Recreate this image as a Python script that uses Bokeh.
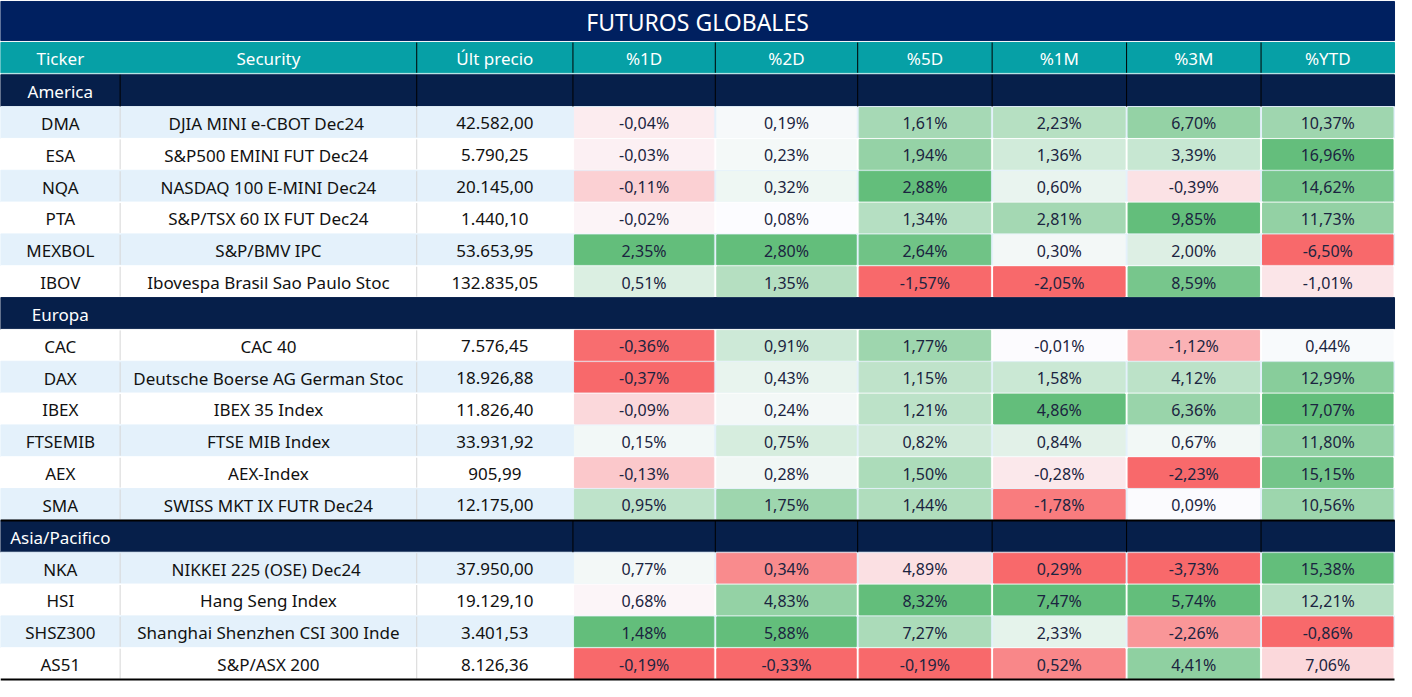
from bokeh.plotting import figure
from bokeh.models import Range1d
from bokeh.core.properties import value
from bokeh.embed import file_html
from bokeh.resources import INLINE
import numpy as np

# ---------------- data ----------------
title = "FUTUROS GLOBALES"
headers = ["Ticker", "Security", "Últ precio", "%1D", "%2D", "%5D", "%1M", "%3M", "%YTD"]
regions = ["America", "Europa", "Asia/Pacifico"]
region_of = ["America"] * 6 + ["Europa"] * 6 + ["Asia/Pacifico"] * 4
tickers = ["DMA", "ESA", "NQA", "PTA", "MEXBOL", "IBOV",
           "CAC", "DAX", "IBEX", "FTSEMIB", "AEX", "SMA",
           "NKA", "HSI", "SHSZ300", "AS51"]
securities = ["DJIA MINI e-CBOT  Dec24", "S&P500 EMINI FUT  Dec24", "NASDAQ 100 E-MINI Dec24",
              "S&P/TSX 60 IX FUT Dec24", "S&P/BMV IPC", "Ibovespa Brasil Sao Paulo Stoc",
              "CAC 40", "Deutsche Boerse AG German Stoc", "IBEX 35 Index", "FTSE MIB Index",
              "AEX-Index", "SWISS MKT IX FUTR Dec24",
              "NIKKEI 225  (OSE) Dec24", "Hang Seng Index", "Shanghai Shenzhen CSI 300 Inde",
              "S&P/ASX 200"]
prices = [42582.00, 5790.25, 20145.00, 1440.10, 53653.95, 132835.05,
          7576.45, 18926.88, 11826.40, 33931.92, 905.99, 12175.00,
          37950.00, 19129.10, 3401.53, 8126.36]
pct_1d = [-0.04, -0.03, -0.11, -0.02, 2.35, 0.51,
          -0.36, -0.37, -0.09, 0.15, -0.13, 0.95,
          0.77, 0.68, 1.48, -0.19]
pct_2d = [0.19, 0.23, 0.32, 0.08, 2.80, 1.35,
          0.91, 0.43, 0.24, 0.75, 0.28, 1.75,
          0.34, 4.83, 5.88, -0.33]
pct_5d = [1.61, 1.94, 2.88, 1.34, 2.64, -1.57,
          1.77, 1.15, 1.21, 0.82, 1.50, 1.44,
          4.89, 8.32, 7.27, -0.19]
pct_1m = [2.23, 1.36, 0.60, 2.81, 0.30, -2.05,
          -0.01, 1.58, 4.86, 0.84, -0.28, -1.78,
          0.29, 7.47, 2.33, 0.52]
pct_3m = [6.70, 3.39, -0.39, 9.85, 2.00, 8.59,
          -1.12, 4.12, 6.36, 0.67, -2.23, 0.09,
          -3.73, 5.74, -2.26, 4.41]
pct_ytd = [10.37, 16.96, 14.62, 11.73, -6.50, -1.01,
           0.44, 12.99, 17.07, 11.80, 15.15, 10.56,
           15.38, 12.21, -0.86, 7.06]
pct_cols = [pct_1d, pct_2d, pct_5d, pct_1m, pct_3m, pct_ytd]

# ---------------- styling / layout ----------------
W_REF, H_REF = 1412, 697
col_edges = [0, 121, 421, 579, 723, 867, 1003, 1139, 1275, 1410]
TITLE_TOP, TITLE_BOT = 1, 41
HEAD_TOP, HEAD_BOT = 43, 74
ROW0, ROW_H = 76, 32.58

NAVY_TITLE = "#002060"
NAVY_GROUP = "#061F4A"
TEAL = "#06A0A6"
BAND = "#E4F1FB"
RED = (248, 105, 107)
WHITE = (252, 252, 255)
GREEN = (99, 190, 123)
FONT = "Noto Sans"

# color-scale groups (conditional formatting ranges)
scale_group = {"America": "A", "Europa": "A", "Asia/Pacifico": "B"}


def lerp(c1, c2, t):
    t = min(max(t, 0.0), 1.0)
    return "#%02x%02x%02x" % tuple(int(round(a + (b - a) * t)) for a, b in zip(c1, c2))


def heat(v, lo, mid, hi):
    if v <= mid:
        t = (v - lo) / (mid - lo) if mid > lo else 1.0
        return lerp(RED, WHITE, t)
    t = (v - mid) / (hi - mid) if hi > mid else 1.0
    return lerp(WHITE, GREEN, t)


def fmt_pct(v):
    return ("%.2f" % v).replace(".", ",") + "%"


def fmt_price(v):
    return ("{:,.2f}".format(v)).replace(",", "X").replace(".", ",").replace("X", ".")


# compute heat colors
heat_colors = [[None] * len(tickers) for _ in pct_cols]
for ci, col in enumerate(pct_cols):
    for g in set(scale_group.values()):
        idx = [i for i, r in enumerate(region_of) if scale_group[r] == g]
        vals = np.array([col[i] for i in idx])
        lo, hi = vals.min(), vals.max()
        if g == "A":
            mid = min(max(0.0, lo), hi)
        else:
            mid = float(np.percentile(vals, 50))
        for i in idx:
            heat_colors[ci][i] = heat(col[i], lo, mid, hi)

# build row sequence
rows = []  # (kind, payload)
for r in regions:
    rows.append(("group", r))
    for i, rr in enumerate(region_of):
        if rr == r:
            rows.append(("data", i))

p = figure(width=1396, height=681, output_backend="svg", toolbar_location=None,
           x_range=Range1d(0, W_REF), y_range=Range1d(H_REF, 0),
           min_border=0, background_fill_color="white", border_fill_color="white")
p.axis.visible = False
p.grid.visible = False
p.outline_line_color = None

# title + header bands
p.quad(left=[0], right=[col_edges[-1]], top=[TITLE_TOP], bottom=[TITLE_BOT], color=NAVY_TITLE)
p.quad(left=[0], right=[col_edges[-1]], top=[HEAD_TOP], bottom=[HEAD_BOT], color=TEAL)
p.text(x=[col_edges[-1] / 2], y=[(TITLE_TOP + TITLE_BOT) / 2 + 1], text=[title],
       text_color="white", text_font=value(FONT), text_font_size="23px",
       text_align="center", text_baseline="middle")
hx = [(col_edges[i] + col_edges[i + 1]) / 2 for i in range(len(headers))]
p.text(x=hx, y=[(HEAD_TOP + HEAD_BOT) / 2 + 1] * len(headers), text=headers,
       text_color="white", text_font=value(FONT), text_font_size="17px",
       text_align="center", text_baseline="middle")
p.segment(x0=col_edges[2:-1], x1=col_edges[2:-1], y0=[HEAD_TOP] * 7, y1=[HEAD_BOT] * 7,
          line_color="black", line_width=1)

band_l, band_r, band_t, band_b, band_c = [], [], [], [], []
grp_lx, grp_ly, grp_text = [], [], []
sep_x0, sep_y0, sep_y1 = [], [], []
blk_x, blk_y0, blk_y1 = [], [], []
hl, hr, ht, hb, hc = [], [], [], [], []
tx_x, tx_y, tx_t = [], [], []
px_x, px_y, px_t = [], [], []

for k, (kind, payload) in enumerate(rows):
    top = ROW0 + k * ROW_H
    bot = top + ROW_H
    cy = (top + bot) / 2 + 1
    if kind == "group":
        band_l.append(0); band_r.append(col_edges[-1]); band_t.append(top); band_b.append(bot)
        band_c.append(NAVY_GROUP)
        grp_lx.append((col_edges[0] + col_edges[1]) / 2); grp_ly.append(cy); grp_text.append(payload)
        if payload == "America":
            xs = col_edges[1:-1]
        elif payload == "Asia/Pacifico":
            xs = col_edges[3:-1]
        else:
            xs = []
        for x in xs:
            blk_x.append(x); blk_y0.append(top); blk_y1.append(bot)
    else:
        i = payload
        band_l.append(0); band_r.append(col_edges[-1]); band_t.append(top); band_b.append(bot)
        band_c.append(BAND if (k + 1) % 2 == 0 else "white")
        for x in col_edges[1:3]:
            sep_x0.append(x); sep_y0.append(top + 1); sep_y1.append(bot - 1)
        tx_x += [(col_edges[0] + col_edges[1]) / 2, (col_edges[1] + col_edges[2]) / 2,
                 (col_edges[2] + col_edges[3]) / 2]
        tx_y += [cy] * 3
        tx_t += [tickers[i], securities[i], fmt_price(prices[i])]
        for ci, col in enumerate(pct_cols):
            l, r = col_edges[3 + ci], col_edges[4 + ci]
            hl.append(l + 1.5); hr.append(r - 1.5); ht.append(top + 1); hb.append(bot - 1)
            hc.append(heat_colors[ci][i])
            px_x.append((l + r) / 2); px_y.append(cy); px_t.append(fmt_pct(col[i]))

p.quad(left=band_l, right=band_r, top=band_t, bottom=band_b, color=band_c)
p.quad(left=hl, right=hr, top=ht, bottom=hb, color=hc)
p.segment(x0=sep_x0, x1=sep_x0, y0=sep_y0, y1=sep_y1, line_color="#D6D6D6", line_width=1)
p.segment(x0=blk_x, x1=blk_x, y0=blk_y0, y1=blk_y1, line_color="black", line_width=1)

# thick black rules: above last region and at the bottom
asia_top = ROW0 + [k for k, r in enumerate(rows) if r == ("group", "Asia/Pacifico")][0] * ROW_H
p.segment(x0=[0, 0], x1=[col_edges[-1]] * 2, y0=[asia_top, ROW0 + len(rows) * ROW_H],
          y1=[asia_top, ROW0 + len(rows) * ROW_H], line_color="black", line_width=2)

p.text(x=grp_lx, y=grp_ly, text=grp_text, text_color="white", text_font=value(FONT),
       text_font_size="17px", text_align="center", text_baseline="middle")
p.text(x=tx_x, y=tx_y, text=tx_t, text_color="#111111", text_font=value(FONT),
       text_font_size="17px", text_align="center", text_baseline="middle")
p.text(x=px_x, y=px_y, text=px_t, text_color="#1B2440", text_font=value(FONT),
       text_font_size="16px", text_align="center", text_baseline="middle")

open("out.html", "w").write(file_html(p, INLINE))
